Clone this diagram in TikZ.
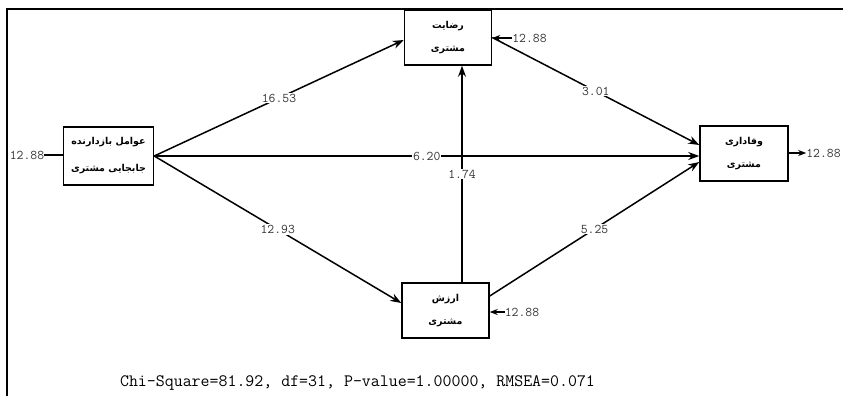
\documentclass[tikz,border=0pt]{standalone}
\usepackage{fontspec}
\newfontfamily\persianfont[Script=Arabic]{DejaVu Sans}
\TeXXeTstate=1
\usetikzlibrary{arrows.meta}
\begin{document}
\begin{tikzpicture}[x=1pt,y=-1pt,
 varbox/.style={draw, line width=1.5pt, minimum width=87pt, minimum height=55pt, inner sep=0pt, align=center, font=\persianfont\bfseries\fontsize{9.5}{23}\selectfont},
 conn/.style={line width=1.5pt, -{Stealth[length=11pt,width=8pt]}},
 coef/.style={font=\ttfamily\fontsize{13.3}{13.3}\selectfont, fill=white, inner sep=1pt, text=black!80},
 errarrow/.style={line width=1.5pt, -{Stealth[length=8pt,width=6pt]}},
 errtext/.style={font=\ttfamily\fontsize{13.3}{13.3}\selectfont, inner sep=0pt, text=black!80}
]
\useasboundingbox (0,0) rectangle (843,396);
\draw[line width=2.5pt] (7,396) -- (7,9.2) -- (843,9.2);

\node[varbox, minimum width=90pt, minimum height=58pt] (L) at (108.5,156) {\beginR عوامل بازدارنده\endR\\[4pt]\beginR جابجایی مشتری\endR};
\node[varbox] (T) at (448,37.5) {\beginR رضایت\endR\\\beginR مشتری\endR};
\node[varbox, minimum width=88pt] (R) at (744,153.5) {\beginR وفاداری\endR\\\beginR مشتری\endR};
\node[varbox] (B) at (445.5,310.5) {\beginR ارزش\endR\\\beginR مشتری\endR};

\draw[conn] (L.east) -- node[coef]{16.53} ([yshift=-2.5pt]T.west);
\draw[conn] (L.east) -- node[coef]{12.93} ([yshift=7.5pt]B.west);
\draw[conn] (L.east) -- node[coef]{6.20} (L.east -| R.west);
\draw[conn] (T.east) -- node[coef]{3.01} ([yshift=8.5pt]R.west);
\draw[conn] ([yshift=14.5pt]B.east) -- node[coef]{5.25} ([yshift=-8.5pt]R.west);
\draw[conn] ([xshift=16.5pt]B.north) -- node[coef]{1.74} ([xshift=16.5pt]B.north |- T.south);

\node[errtext] (eL) at (27,155) {12.88};
\draw[line width=1.5pt] (eL.east) -- (L.west |- eL.east);
\node[errtext] (eT) at (529.5,38) {12.88};
\draw[errarrow] (eT.west) -- (T.east |- eT.west);
\node[errtext] (eR) at (823.5,153) {12.88};
\draw[errarrow] (R.east |- eR.west) -- (eR.west);
\node[errtext] (eB) at (522,312) {12.88};
\draw[errarrow] (eB.west) -- (B.east |- eB.west);

\node[font=\ttfamily\fontsize{17.4}{17.4}\selectfont, inner sep=0pt] (cap) at (357.5,383) {Chi-Square=81.92, df=31, P-value=1.00000, RMSEA=0.071};
\end{tikzpicture}
\end{document}
